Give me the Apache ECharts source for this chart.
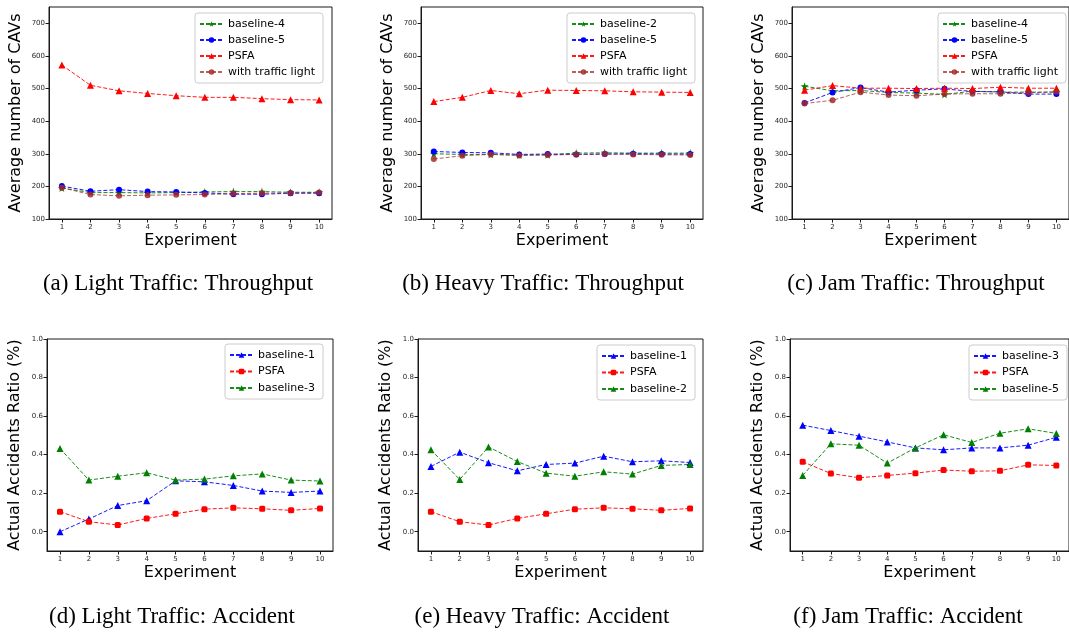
<!DOCTYPE html>
<html>
<head>
<meta charset="utf-8">
<script src="https://cdn.jsdelivr.net/npm/echarts@6/dist/echarts.min.js"></script>
<style>
html,body{margin:0;padding:0;background:#fff;}
#chart{width:1069px;height:633px;}
</style>
</head>
<body>
<div id="chart"></div>
<script>
// ---------- data ----------
const experiments = [1,2,3,4,5,6,7,8,9,10];
const throughputTicks = [100,200,300,400,500,600,700];
const accidentTicks = [0,0.2,0.4,0.6,0.8,1.0];

// (a) Light traffic throughput
const aBaseline4 = [195,181,181,180,181,183,184,184,182,182];
const aBaseline5 = [201,185,190,184,183,180,176,176,179,179];
const aPSFA      = [572,510,493,485,478,473,473,469,466,465];
const aLight     = [196,175,171,173,174,175,178,179,180,181];
// (b) Heavy traffic throughput
const bBaseline2 = [300,298,298,296,297,302,303,302,302,302];
const bBaseline5 = [307,304,303,298,299,298,299,300,299,299];
const bPSFA      = [460,473,494,484,495,494,493,490,489,488];
const bLight     = [284,294,298,295,296,298,299,298,297,296];
// (c) Jam traffic throughput
const cBaseline4 = [507,493,494,488,486,482,492,489,489,489];
const cBaseline5 = [456,488,503,489,495,499,491,490,483,483];
const cPSFA      = [495,509,501,501,500,501,500,504,501,501];
const cLight     = [454,464,489,480,478,483,484,484,487,490];
// (d) Light traffic accident
const dBaseline1 = [0.0,0.066,0.136,0.161,0.264,0.259,0.240,0.211,0.204,0.211];
const dPSFA      = [0.104,0.052,0.035,0.069,0.093,0.117,0.124,0.119,0.111,0.121];
const dBaseline3 = [0.432,0.268,0.288,0.306,0.268,0.273,0.290,0.300,0.268,0.263];
// (e) Heavy traffic accident
const eBaseline1 = [0.339,0.413,0.358,0.316,0.349,0.356,0.392,0.363,0.368,0.359];
const ePSFA      = [0.104,0.052,0.035,0.069,0.093,0.117,0.124,0.119,0.111,0.121];
const eBaseline2 = [0.425,0.271,0.440,0.364,0.304,0.288,0.311,0.299,0.344,0.349];
// (f) Jam traffic accident
const fBaseline3 = [0.553,0.525,0.496,0.466,0.435,0.425,0.435,0.435,0.449,0.490];
const fPSFA      = [0.363,0.302,0.280,0.292,0.304,0.320,0.314,0.316,0.347,0.344];
const fBaseline5 = [0.292,0.456,0.449,0.356,0.435,0.503,0.463,0.511,0.534,0.510];

const captions = [
  "(a) Light Traffic: Throughput",
  "(b) Heavy Traffic: Throughput",
  "(c) Jam Traffic: Throughput",
  "(d) Light Traffic: Accident",
  "(e) Heavy Traffic: Accident",
  "(f) Jam Traffic: Accident"
];
const yTitles = ["Average number of CAVs","Actual Accidents Ratio (%)"];
const xTitle = "Experiment";

// ---------- styles ----------
const STAR = 'path://M50,0 L61,35 L98,35 L68,57 L79,91 L50,70 L21,91 L32,57 L2,35 L39,35 Z';
const GREEN = '#008000', BLUE = '#0000ff', RED = '#ff0000', BROWN = '#a52a2a';

const panels = [
  {grid:{left:49,top:7,width:283,height:212}, top:true, legend:{left:195,top:13},
   series:[['baseline-4',aBaseline4,GREEN,STAR,8],['baseline-5',aBaseline5,BLUE,'circle',6],['PSFA',aPSFA,RED,'triangle',7],['with traffic light',aLight,BROWN,'circle',6]]},
  {grid:{left:421,top:7,width:282,height:212}, top:true, legend:{left:567,top:13},
   series:[['baseline-2',bBaseline2,GREEN,STAR,8],['baseline-5',bBaseline5,BLUE,'circle',6],['PSFA',bPSFA,RED,'triangle',7],['with traffic light',bLight,BROWN,'circle',6]]},
  {grid:{left:792,top:7,width:283,height:212}, top:true, legend:{left:938,top:13},
   series:[['baseline-4',cBaseline4,GREEN,STAR,8],['baseline-5',cBaseline5,BLUE,'circle',6],['PSFA',cPSFA,RED,'triangle',7],['with traffic light',cLight,BROWN,'circle',6]]},
  {grid:{left:47,top:339,width:286,height:212}, top:false, legend:{left:225,top:344},
   series:[['baseline-1',dBaseline1,BLUE,'triangle',7],['PSFA',dPSFA,RED,'roundRect',6],['baseline-3',dBaseline3,GREEN,'triangle',7]]},
  {grid:{left:418,top:339,width:285,height:212}, top:false, legend:{left:597,top:345},
   series:[['baseline-1',eBaseline1,BLUE,'triangle',7],['PSFA',ePSFA,RED,'roundRect',6],['baseline-2',eBaseline2,GREEN,'triangle',7]]},
  {grid:{left:790,top:339,width:286,height:212}, top:false, legend:{left:969,top:345},
   series:[['baseline-3',fBaseline3,BLUE,'triangle',7],['PSFA',fPSFA,RED,'roundRect',6],['baseline-5',fBaseline5,GREEN,'triangle',7]]}
];

const captionPos = [[178,284],[543,284],[916,284],[172,617],[542,617],[908,617]];

const FONT = 'DejaVu Sans';
const grids=[], xAxes=[], yAxes=[], series=[], legends=[], graphics=[];

panels.forEach((p,i)=>{
  grids.push(Object.assign({show:true,borderColor:'#1a1a1a',borderWidth:1,containLabel:false}, p.grid));
  xAxes.push({
    type:'value', gridIndex:i, min:0.55, max:10.45,
    name:xTitle, nameLocation:'middle', nameGap:14,
    nameTextStyle:{fontFamily:FONT,fontSize:16,color:'#000',verticalAlign:'top'},
    axisLine:{show:true,onZero:false,lineStyle:{color:'#1a1a1a',width:1}},
    axisTick:{show:true,length:3.5,customValues:experiments,lineStyle:{color:'#1a1a1a'}},
    axisLabel:{customValues:experiments,fontFamily:FONT,fontSize:7,color:'#262626',margin:5},
    splitLine:{show:false}
  });
  const ticks = p.top ? throughputTicks : accidentTicks;
  yAxes.push({
    type:'value', gridIndex:i,
    min: p.top ? 100 : -0.1, max: p.top ? 750 : 1.0,
    name: p.top ? yTitles[0] : yTitles[1], nameLocation:'middle', nameGap: p.top ? 25 : 24,
    nameTextStyle:{fontFamily:FONT,fontSize:16,color:'#000'},
    axisLine:{show:true,onZero:false,lineStyle:{color:'#1a1a1a',width:1}},
    axisTick:{show:true,length:3.5,customValues:ticks,lineStyle:{color:'#1a1a1a'}},
    axisLabel:{customValues:ticks,fontFamily:FONT,fontSize:7,color:'#262626',margin:4,
      formatter: p.top ? (v=>String(Math.round(v))) : (v=>v.toFixed(1))},
    splitLine:{show:false}
  });
  const names=[];
  p.series.forEach(([name,vals,color,sym,size])=>{
    const full = i+'|'+name;
    names.push(full);
    series.push({
      type:'line', name:full, xAxisIndex:i, yAxisIndex:i,
      data: experiments.map((x,k)=>[x,vals[k]]),
      symbol:sym, symbolSize:size, showAllSymbol:true,
      lineStyle:{color:color,width:1,type:[4,2],opacity: color===BROWN?0.75:0.9},
      itemStyle:{color:color,opacity: color===BROWN?0.85:1},
      emphasis:{disabled:true}, animation:false
    });
  });
  legends.push({
    data:names, orient:'vertical', left:p.legend.left, top:p.legend.top,
    formatter:n=>n.split('|')[1],
    itemWidth:23, itemHeight:7, itemGap: p.top?4:4.5,
    padding:[5,8,5,4],
    backgroundColor:'rgba(255,255,255,0.8)', borderColor:'#cccccc', borderWidth:1, borderRadius:3,
    textStyle:{fontFamily:FONT,fontSize:11,color:'#000',lineHeight:12},
    selectedMode:false
  });
  graphics.push({
    type:'text', x:captionPos[i][0], y:captionPos[i][1],
    style:{text:captions[i], fontFamily:'Liberation Serif', fontSize:23, fill:'#000',
      textAlign:'center', textVerticalAlign:'middle'}
  });
});

const chart = echarts.init(document.getElementById('chart'), null, {renderer:'canvas'});
chart.setOption({
  animation:false,
  backgroundColor:'#fff',
  grid:grids, xAxis:xAxes, yAxis:yAxes, series:series, legend:legends, graphic:graphics
});
</script>
</body>
</html>
